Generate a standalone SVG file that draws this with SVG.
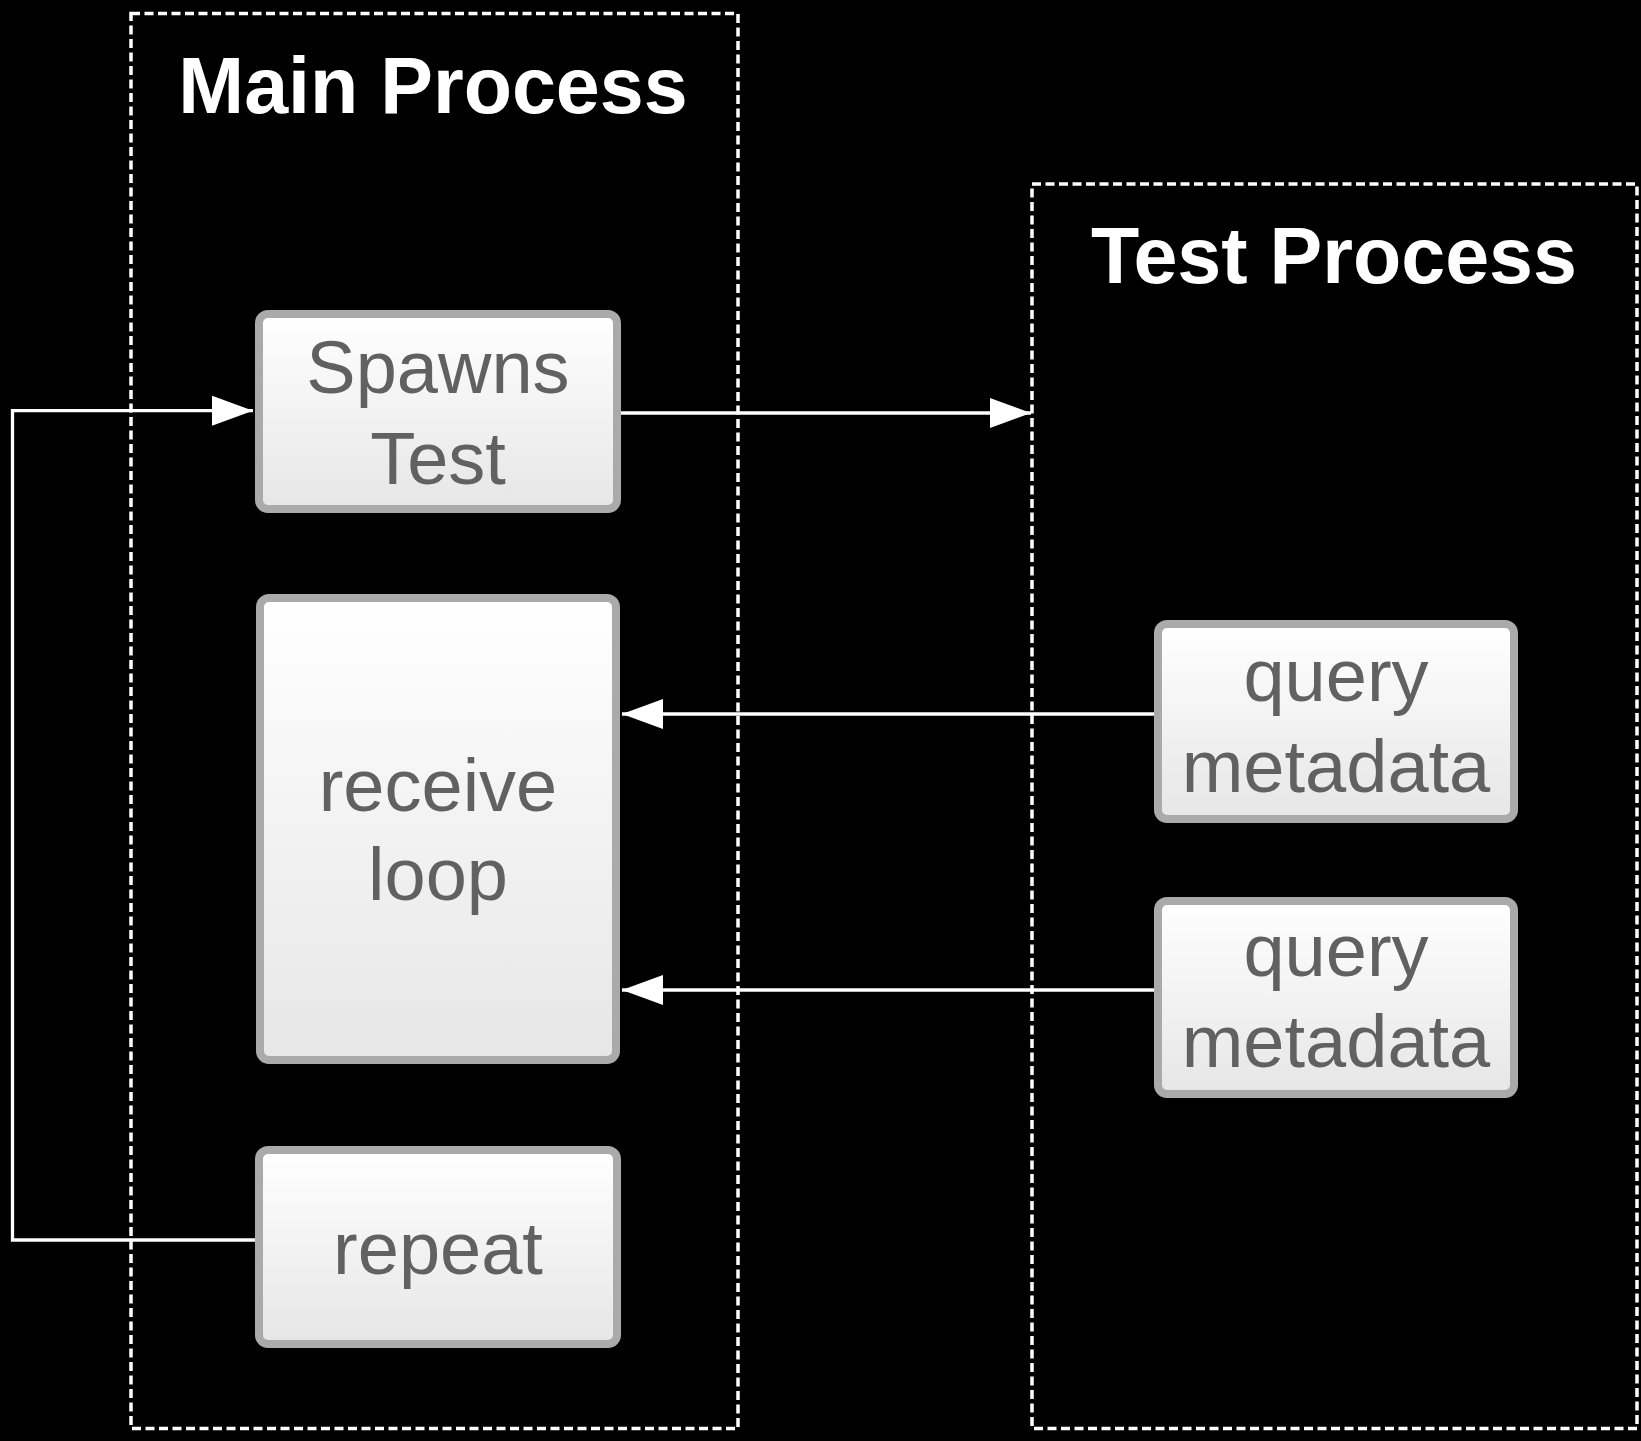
<svg xmlns="http://www.w3.org/2000/svg" width="1641" height="1441" viewBox="0 0 1641 1441">
  <defs>
    <linearGradient id="nodeFill" x1="0" y1="0" x2="0" y2="1">
      <stop offset="0" stop-color="#ffffff"/>
      <stop offset="1" stop-color="#e6e6e6"/>
    </linearGradient>
    <marker id="arrow" markerUnits="userSpaceOnUse" markerWidth="42" markerHeight="31" refX="41" refY="15" orient="auto">
      <path d="M0,0 L41,15 L0,30 Z" fill="#ffffff"/>
    </marker>
    <style>
      .lane { fill: none; stroke: #ffffff; stroke-width: 3.5; stroke-dasharray: 9 4.5; }
      .title { font-family: "Liberation Sans", Arial, Helvetica, sans-serif; font-weight: bold; font-size: 79px; fill: #ffffff; text-anchor: middle; }
      .box { fill: url(#nodeFill); stroke: #aaaaaa; stroke-width: 8; }
      .label { font-family: "Liberation Sans", Arial, Helvetica, sans-serif; font-size: 74px; fill: #616161; text-anchor: middle; }
      .conn { fill: none; stroke: #ffffff; stroke-width: 3.3; }
    </style>
  </defs>
  <rect x="0" y="0" width="1641" height="1441" fill="#000000"/>

  <g id="main-process">
    <rect class="lane" x="131" y="13.5" width="607" height="1415"/>
    <text class="title" x="433" y="113">Main Process</text>
  </g>

  <g id="test-process">
    <rect class="lane" x="1032" y="184" width="605" height="1244.5"/>
    <text class="title" x="1334" y="283">Test Process</text>
  </g>

  <g id="connectors">
    <path class="conn" d="M621,413 H1031" marker-end="url(#arrow)"/>
    <path class="conn" d="M255,1240 H12.5 V410.7 H253" marker-end="url(#arrow)"/>
    <path class="conn" d="M1154,714 H622" marker-end="url(#arrow)"/>
    <path class="conn" d="M1154,990 H622" marker-end="url(#arrow)"/>
  </g>

  <g id="spawns-test">
    <rect class="box" x="259" y="314" width="358" height="195" rx="9"/>
    <text class="label" x="438" y="393">Spawns</text>
    <text class="label" x="438" y="484">Test</text>
  </g>

  <g id="receive-loop">
    <rect class="box" x="260" y="598" width="356" height="462" rx="9"/>
    <text class="label" x="438" y="811">receive</text>
    <text class="label" x="438" y="900">loop</text>
  </g>

  <g id="repeat">
    <rect class="box" x="259" y="1150" width="358" height="194" rx="9"/>
    <text class="label" x="438" y="1274">repeat</text>
  </g>

  <g id="query-metadata-1">
    <rect class="box" x="1158" y="624" width="356" height="195" rx="9"/>
    <text class="label" x="1336" y="701">query</text>
    <text class="label" x="1336" y="792">metadata</text>
  </g>

  <g id="query-metadata-2">
    <rect class="box" x="1158" y="901" width="356" height="193" rx="9"/>
    <text class="label" x="1336" y="976">query</text>
    <text class="label" x="1336" y="1067">metadata</text>
  </g>
</svg>
